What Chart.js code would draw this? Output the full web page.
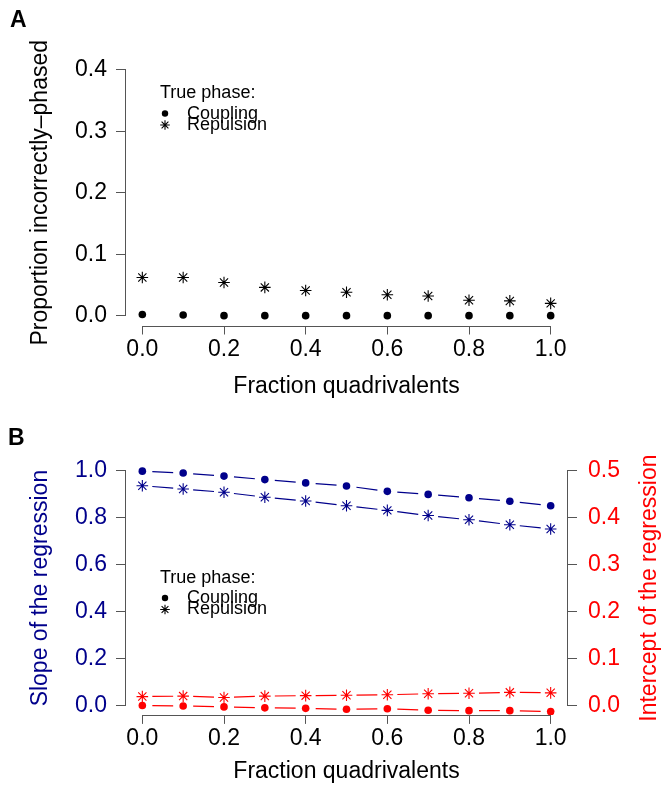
<!DOCTYPE html>
<html>
<head>
<meta charset="utf-8">
<script src="https://cdn.jsdelivr.net/npm/chart.js@4.4.0/dist/chart.umd.min.js"></script>
<style>
  html, body { margin: 0; padding: 0; background: #fff; }
  #wrap { position: relative; width: 661px; height: 790px; }
  #boxA { position: absolute; left: 0; top: 0; }
  #boxB { position: absolute; left: 0; top: 405px; }
</style>
</head>
<body>
<div id="wrap">
  <div id="boxA"><canvas id="graphA" width="661" height="405"></canvas></div>
  <div id="boxB"><canvas id="graphB" width="661" height="385"></canvas></div>
</div>
<script>
// fraction of quadrivalents simulated
var fractions = [0.0, 0.1, 0.2, 0.3, 0.4, 0.5, 0.6, 0.7, 0.8, 0.9, 1.0];

// A : proportion incorrectly phased
var wrongCoupling  = [0.002, 0.001, 0.000, 0.000, 0.000, 0.000, 0.000, 0.000, 0.000, 0.000, 0.000];
var wrongRepulsion = [0.062, 0.062, 0.054, 0.046, 0.041, 0.038, 0.034, 0.032, 0.025, 0.024, 0.020];

// B : regression slope (left axis) and intercept (right axis)
var slopeCoupling      = [0.998, 0.990, 0.977, 0.962, 0.948, 0.935, 0.912, 0.899, 0.885, 0.870, 0.851];
var slopeRepulsion     = [0.936, 0.922, 0.908, 0.887, 0.871, 0.851, 0.831, 0.809, 0.791, 0.770, 0.752];
var interceptCoupling  = [0.000, -0.001, -0.003, -0.005, -0.006, -0.008, -0.007, -0.010, -0.011, -0.011, -0.013];
var interceptRepulsion = [0.019, 0.020, 0.017, 0.020, 0.021, 0.022, 0.023, 0.025, 0.026, 0.028, 0.027];

// tick positions
var xTicks = [0.0, 0.2, 0.4, 0.6, 0.8, 1.0];
var propTicks = [0.0, 0.1, 0.2, 0.3, 0.4];
var slopeTicks = [0.0, 0.2, 0.4, 0.6, 0.8, 1.0];
var interceptTicks = [0.0, 0.1, 0.2, 0.3, 0.4, 0.5];

var FONT = "'Liberation Sans', Arial, Helvetica, sans-serif";
var NAVY = '#00008b';
var RED = '#ff0000';
var AXIS = '#555555';
var SIZE = 23;

Chart.defaults.font.family = FONT;
Chart.defaults.color = '#000';

function points(ys) {
    return fractions.map(function (x, i) { return { x: x, y: ys[i] }; });
}

function fixedTicks(values) {
    return function (scale) {
        scale.ticks = values.map(function (v) { return { value: v }; });
    };
}

function oneDecimal(v) { return Number(v).toFixed(1); }

// R-like axis line, running only from first to last tick
var axisLines = {
    id: 'axisLines',
    afterDraw: function (chart) {
        var ctx = chart.ctx;
        ctx.save();
        ctx.strokeStyle = AXIS;
        ctx.lineWidth = 1;
        Object.keys(chart.scales).forEach(function (id) {
            var s = chart.scales[id];
            var a = s.getPixelForValue(s.ticks[0].value);
            var b = s.getPixelForValue(s.ticks[s.ticks.length - 1].value);
            ctx.beginPath();
            if (s.isHorizontal()) {
                ctx.moveTo(a, Math.round(s.top) + 0.5);
                ctx.lineTo(b, Math.round(s.top) + 0.5);
            } else if (s.position === 'left') {
                ctx.moveTo(Math.round(s.right) - 0.5, a);
                ctx.lineTo(Math.round(s.right) - 0.5, b);
            } else {
                ctx.moveTo(Math.round(s.left) + 0.5, a);
                ctx.lineTo(Math.round(s.left) + 0.5, b);
            }
            ctx.stroke();
        });
        ctx.restore();
    }
};

// type="b" lines : segments between points, cut short around each marker
var gappedLines = {
    id: 'gappedLines',
    beforeDatasetsDraw: function (chart) {
        var ctx = chart.ctx;
        var gap = 10;
        chart.data.datasets.forEach(function (ds, i) {
            if (!ds.joined) return;
            var pts = chart.getDatasetMeta(i).data;
            ctx.save();
            ctx.strokeStyle = ds.borderColor;
            ctx.lineWidth = 1.2;
            ctx.beginPath();
            for (var k = 0; k < pts.length - 1; k++) {
                var p = pts[k], q = pts[k + 1];
                var dx = q.x - p.x, dy = q.y - p.y;
                var len = Math.sqrt(dx * dx + dy * dy);
                if (len <= 2 * gap) continue;
                ctx.moveTo(p.x + dx / len * gap, p.y + dy / len * gap);
                ctx.lineTo(q.x - dx / len * gap, q.y - dy / len * gap);
            }
            ctx.stroke();
            ctx.restore();
        });
    }
};

// "True phase:" key, panel letter and optional right-hand title
var decorations = {
    id: 'decorations',
    afterDraw: function (chart, args, o) {
        var ctx = chart.ctx;
        ctx.save();
        ctx.fillStyle = '#000';
        ctx.strokeStyle = '#000';

        ctx.font = 'bold 23px ' + FONT;
        ctx.textBaseline = 'alphabetic';
        ctx.textAlign = 'left';
        ctx.fillText(o.letter, o.letterX, o.letterY);

        ctx.font = '18px ' + FONT;
        ctx.textBaseline = 'middle';
        ctx.fillText('True phase:', o.keyX, o.keyY);
        ctx.beginPath();
        ctx.arc(o.keyX + 5, o.keyY + 20, 3.2, 0, Math.PI * 2);
        ctx.fill();
        ctx.fillText('Coupling', o.keyX + 27, o.keyY + 20.5);
        var sx = o.keyX + 5, sy = o.keyY + 31.5, r = 4.8, d = r * Math.SQRT1_2;
        ctx.lineWidth = 1.1;
        ctx.beginPath();
        ctx.moveTo(sx - r, sy); ctx.lineTo(sx + r, sy);
        ctx.moveTo(sx, sy - r); ctx.lineTo(sx, sy + r);
        ctx.moveTo(sx - d, sy - d); ctx.lineTo(sx + d, sy + d);
        ctx.moveTo(sx - d, sy + d); ctx.lineTo(sx + d, sy - d);
        ctx.stroke();
        ctx.fillText('Repulsion', o.keyX + 27, o.keyY + 31.5);

        if (o.rightTitle) {
            var area = chart.chartArea;
            ctx.translate(o.rightTitleX, (area.top + area.bottom) / 2);
            ctx.rotate(-Math.PI / 2);
            ctx.textAlign = 'center';
            ctx.fillStyle = RED;
            ctx.font = SIZE + 'px ' + FONT;
            ctx.fillText(o.rightTitle, 0, 0);
        }
        ctx.restore();
    }
};

function xScale(height) {
    return {
        type: 'linear',
        min: -0.04,
        max: 1.04,
        afterBuildTicks: fixedTicks(xTicks),
        afterFit: function (s) { s.height = height; },
        border: { display: false },
        grid: { drawOnChartArea: false, drawTicks: true, tickLength: 9, color: AXIS },
        ticks: { callback: oneDecimal, font: { size: SIZE }, color: '#000', padding: 1, maxRotation: 0 },
        title: { display: true, text: 'Fraction quadrivalents', font: { size: SIZE }, color: '#000', padding: { top: 0, bottom: 5 } }
    };
}

var commonOpts = {
    responsive: false,
    animation: false,
    events: []
};

// ---- A ----
new Chart(document.getElementById('graphA').getContext('2d'), {
    type: 'scatter',
    data: {
        datasets: [
            {
                label: 'Coupling',
                data: points(wrongCoupling),
                pointStyle: 'circle',
                pointRadius: 3.8,
                backgroundColor: '#000',
                borderColor: '#000',
                pointBorderWidth: 0
            },
            {
                label: 'Repulsion',
                data: points(wrongRepulsion),
                pointStyle: 'star',
                pointRadius: 5.8,
                backgroundColor: '#000',
                borderColor: '#000',
                pointBorderWidth: 1.1
            }
        ]
    },
    options: Object.assign({}, commonOpts, {
        layout: { padding: { left: 0, top: 60, right: 94, bottom: 0 } },
        scales: {
            x: xScale(79.5),
            y: {
                type: 'linear',
                position: 'left',
                min: -0.016,
                max: 0.416,
                afterBuildTicks: fixedTicks(propTicks),
                afterFit: function (s) { s.width = 126; },
                border: { display: false },
                grid: { drawOnChartArea: false, drawTicks: true, tickLength: 10, color: AXIS },
                ticks: { callback: oneDecimal, font: { size: SIZE }, color: '#000', padding: 9 },
                title: { display: true, text: 'Proportion incorrectly\u2013phased', font: { size: SIZE }, color: '#000', padding: { top: 27, bottom: 0 } }
            }
        },
        plugins: {
            legend: { display: false },
            tooltip: { enabled: false },
            decorations: { letter: 'A', letterX: 10, letterY: 27, keyX: 160, keyY: 93.5 }
        }
    }),
    plugins: [axisLines, gappedLines, decorations]
});

// ---- B ----
new Chart(document.getElementById('graphB').getContext('2d'), {
    type: 'scatter',
    data: {
        datasets: [
            {
                label: 'Slope, coupling',
                data: points(slopeCoupling),
                yAxisID: 'y',
                joined: true,
                pointStyle: 'circle',
                pointRadius: 3.8,
                backgroundColor: NAVY,
                borderColor: NAVY,
                pointBorderWidth: 0
            },
            {
                label: 'Slope, repulsion',
                data: points(slopeRepulsion),
                yAxisID: 'y',
                joined: true,
                pointStyle: 'star',
                pointRadius: 5.8,
                backgroundColor: NAVY,
                borderColor: NAVY,
                pointBorderWidth: 1.1
            },
            {
                label: 'Intercept, coupling',
                data: points(interceptCoupling),
                yAxisID: 'y2',
                joined: true,
                pointStyle: 'circle',
                pointRadius: 3.8,
                backgroundColor: RED,
                borderColor: RED,
                pointBorderWidth: 0
            },
            {
                label: 'Intercept, repulsion',
                data: points(interceptRepulsion),
                yAxisID: 'y2',
                joined: true,
                pointStyle: 'star',
                pointRadius: 5.8,
                backgroundColor: RED,
                borderColor: RED,
                pointBorderWidth: 1.1
            }
        ]
    },
    options: Object.assign({}, commonOpts, {
        layout: { padding: { left: 0, top: 56.3, right: 0, bottom: 0 } },
        scales: {
            x: xScale(75.1),
            y: {
                type: 'linear',
                position: 'left',
                min: -0.04,
                max: 1.04,
                afterBuildTicks: fixedTicks(slopeTicks),
                afterFit: function (s) { s.width = 126; },
                border: { display: false },
                grid: { drawOnChartArea: false, drawTicks: true, tickLength: 10, color: AXIS },
                ticks: { callback: oneDecimal, font: { size: SIZE }, color: NAVY, padding: 9 },
                title: { display: true, text: 'Slope of the regression', font: { size: SIZE }, color: NAVY, padding: { top: 27, bottom: 0 } }
            },
            y2: {
                type: 'linear',
                position: 'right',
                min: -0.02,
                max: 0.52,
                afterBuildTicks: fixedTicks(interceptTicks),
                afterFit: function (s) { s.width = 94; },
                border: { display: false },
                grid: { drawOnChartArea: false, drawTicks: true, tickLength: 10, color: AXIS },
                ticks: { callback: oneDecimal, font: { size: SIZE }, color: RED, padding: 11 }
            }
        },
        plugins: {
            legend: { display: false },
            tooltip: { enabled: false },
            decorations: {
                letter: 'B', letterX: 8, letterY: 40, keyX: 160, keyY: 173,
                rightTitle: 'Intercept of the regression', rightTitleX: 650
            }
        }
    }),
    plugins: [axisLines, gappedLines, decorations]
});
</script>
</body>
</html>
